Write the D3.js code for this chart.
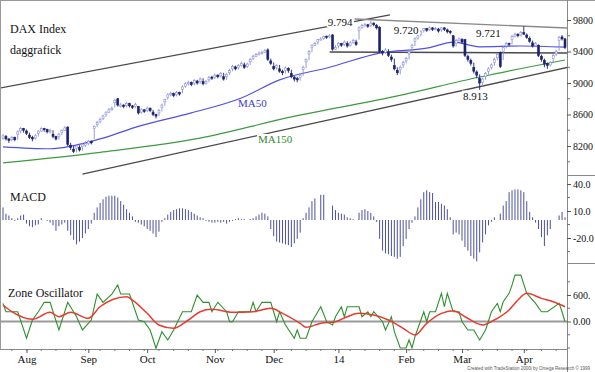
<!DOCTYPE html>
<html>
<head>
<meta charset="utf-8">
<script src="https://cdn.jsdelivr.net/npm/d3@7/dist/d3.min.js"></script>
<style>
body { margin: 0; background: #fff; }
svg { display: block; font-family: "Liberation Serif", "Times New Roman", serif; }
</style>
</head>
<body>
<svg id="chart" width="595" height="372"></svg>
<script>
// daily DAX bars, late Jul 2013 .. late Apr 2014
const opens = [8300,8320,8290,8280,8310,8350,8390,8420,8390,8340,
8310,8300,8360,8390,8420,8410,8380,8350,8320,8320,
8370,8400,8440,8210,8160,8170,8180,8190,8210,8230,
8260,8420,8470,8510,8550,8600,8630,8660,8750,8800,
8705,8720,8710,8740,8710,8700,8700,8630,8660,8650,
8680,8630,8600,8620,8690,8760,8820,8850,8865,8850,
8880,8920,8960,8990,9005,9000,9025,9020,9020,8995,
9040,9075,9075,9100,9090,9080,9080,9130,9180,9205,
9195,9225,9230,9210,9270,9310,9340,9360,9375,9390,
9420,9280,9210,9195,9180,9150,9160,9185,9120,9075,
9055,9070,9170,9270,9370,9450,9480,9520,9545,9565,
9595,9585,9610,9430,9470,9500,9490,9500,9480,9515,
9520,9670,9705,9725,9740,9730,9760,9730,9710,9400,
9390,9390,9330,9220,9160,9170,9230,9280,9370,9450,
9530,9570,9620,9665,9690,9675,9700,9675,9685,9675,
9700,9675,9655,9600,9500,9535,9550,9550,9335,9285,
9200,9140,9060,9010,9080,9150,9200,9260,9320,9390,
9400,9470,9505,9550,9595,9620,9610,9640,9610,9565,
9510,9475,9480,9340,9290,9250,9230,9310,9370,9540,
9585,9560];
const highs = [8350,8340,8300,8330,8320,8400,8440,8430,8410,8370,
8330,8350,8400,8440,8430,8420,8420,8400,8330,8370,
8410,8450,8450,8240,8200,8220,8210,8240,8260,8280,
8270,8460,8520,8560,8600,8640,8680,8700,8800,8810,
8750,8730,8760,8750,8720,8750,8710,8680,8670,8700,
8690,8660,8610,8670,8740,8800,8870,8890,8880,8900,
8890,8970,9010,9030,9020,9050,9040,9070,9060,9040,
9090,9090,9120,9110,9140,9130,9130,9180,9230,9220,
9240,9270,9260,9260,9320,9360,9380,9400,9410,9430,
9440,9310,9260,9240,9230,9170,9210,9200,9170,9090,
9080,9120,9220,9310,9420,9490,9520,9560,9580,9600,
9600,9620,9620,9480,9520,9510,9540,9530,9530,9560,
9550,9720,9750,9760,9750,9794,9770,9750,9720,9420,
9440,9430,9360,9310,9200,9220,9280,9330,9420,9500,
9580,9620,9670,9700,9700,9720,9710,9710,9700,9710,
9710,9690,9670,9610,9560,9580,9570,9560,9360,9310,
9260,9160,9110,9070,9140,9200,9250,9320,9380,9400,
9470,9520,9510,9610,9640,9630,9660,9721,9630,9590,
9540,9520,9490,9360,9310,9260,9280,9370,9420,9600,
9610,9570];
const lows = [8280,8270,8240,8260,8260,8280,8360,8370,8340,8290,
8260,8280,8320,8380,8380,8360,8360,8300,8270,8280,
8340,8390,8200,8150,8110,8120,8130,8140,8190,8210,
8220,8290,8440,8490,8530,8570,8620,8650,8690,8700,
8690,8680,8690,8690,8670,8680,8600,8610,8620,8630,
8630,8580,8550,8580,8640,8710,8790,8830,8820,8830,
8840,8870,8940,8970,8960,8970,8980,8990,8970,8980,
9010,9040,9050,9060,9070,9030,9040,9100,9150,9160,
9170,9210,9180,9190,9230,9290,9330,9350,9360,9380,
9280,9230,9160,9170,9130,9100,9120,9130,9060,9020,
9010,9030,9090,9190,9290,9390,9470,9490,9540,9550,
9560,9570,9410,9420,9440,9460,9470,9450,9460,9500,
9470,9550,9690,9720,9700,9710,9720,9680,9380,9350,
9370,9330,9270,9160,9100,9110,9190,9250,9300,9390,
9470,9550,9590,9640,9650,9660,9660,9670,9640,9650,
9660,9630,9620,9450,9460,9530,9500,9330,9270,9220,
9120,9060,8913,8960,9040,9110,9170,9220,9290,9190,
9290,9440,9470,9490,9580,9580,9590,9610,9560,9510,
9450,9460,9330,9270,9200,9180,9210,9250,9340,9410,
9540,9430];
const closes = [8330,8290,8270,8310,8280,8380,8420,8400,8360,8310,
8290,8330,8390,8420,8410,8380,8400,8320,8290,8350,
8400,8430,8220,8180,8130,8200,8150,8220,8230,8260,
8240,8450,8500,8540,8580,8630,8660,8680,8780,8720,
8720,8700,8740,8710,8690,8730,8620,8660,8640,8680,
8650,8600,8580,8650,8720,8790,8850,8870,8840,8880,
8860,8950,8990,9010,8980,9030,9000,9050,8990,9020,
9070,9060,9100,9080,9120,9050,9110,9160,9210,9180,
9220,9250,9200,9240,9300,9340,9360,9380,9390,9410,
9300,9250,9180,9220,9150,9130,9190,9160,9080,9050,
9040,9100,9200,9300,9400,9480,9500,9550,9560,9590,
9580,9600,9430,9450,9500,9480,9520,9470,9510,9540,
9490,9700,9730,9740,9720,9760,9740,9700,9400,9380,
9420,9350,9300,9180,9130,9200,9260,9310,9400,9480,
9560,9600,9650,9690,9670,9700,9680,9690,9660,9700,
9680,9650,9640,9470,9540,9560,9520,9350,9300,9250,
9150,9100,9000,9050,9120,9180,9230,9300,9360,9210,
9450,9500,9490,9590,9620,9600,9640,9620,9580,9530,
9470,9500,9350,9300,9240,9220,9260,9350,9400,9580,
9560,9450];

// moving averages (bar index, value)
const ma50Idx = [0, 16, 33, 46, 64, 81, 94, 111, 128, 145, 153, 162, 176, 191];
const ma50Val = [8190, 8165, 8290, 8450, 8620, 8810, 9040, 9200, 9380, 9450, 9520, 9460, 9470, 9455];
const ma150Idx = [0, 33, 67, 98, 132, 162, 191];
const ma150Val = [7985, 8120, 8300, 8570, 8820, 9076, 9292];

// trend lines [startIdx, startPrice, endIdx, endPrice]
const trendLines = [
  [-1, 8936, 131.5, 9864],
  [27, 7844, 192, 9200],
  [111, 9394, 192, 9381],
  [119.5, 9813, 192, 9698]
];

// MACD histogram, one value per bar
const macd = [14,7,5,2,-1,2,5,6,-4,-7,
-8,-6,-5,2,0,-1,-3,-6,-12,-7,
-5,-3,-12,-17,-22,-27,-24,-20,-15,-10,
-4,8,14,19,23,26,27,27,27,25,
21,17,12,8,4,-2,-3,-5,-7,-10,
-12,-15,-19,-13,-2,2,6,9,11,12,
13,13,12,11,9,7,5,3,2,-1,
-2,-3,-3,-2,-3,-2,-4,-2,-1,1,
2,1,1,0,1,2,4,6,8,7,
4,-10,-18,-24,-25,-26,-27,-28,-30,-26,
-21,-14,2,8,14,21,24,0,28,28,
0,0,16,11,8,7,6,3,2,1,
0,8,11,12,10,8,4,-2,-21,-34,
-37,-38,-40,-41,-43,-41,-29,-21,-10,-3,
4,14,23,31,33,31,30,20,20,18,
16,12,3,-16,-14,-16,-23,-30,-34,-40,
-43,-46,-36,-25,-16,-6,-2,3,0,7,
16,21,31,33,34,34,33,31,21,9,
3,-3,-10,-19,-29,-17,-10,0,0,5,
9,3];

// zone oscillator: green line vertices and red signal line
const zoneIdx = [0,1,5,8,10,12,14,16,19,22,25,27,30,32,34,37,39,40,43,46,48,50,52,54,56,58,61,64,66,68,70,71,73,76,77,78,80,84,85,86,88,91,93,94,96,99,100,101,
103,105,106,108,110,112,113,115,116,117,121,122,124,125,126,129,130,132,133,135,137,138,139,140,143,144,145,147,149,150,151,153,155,156,158,160,162,164,166,168,169,170,172,173,174,176,178,181,183,185,189,190,191];
const zoneVal = [411,221,221,-379,34,221,434,434,-192,434,108,-192,34,621,434,621,825,621,621,34,-5,-192,-606,-231,-418,-192,221,221,599,434,434,221,434,221,-5,-5,221,221,434,221,434,434,-5,221,-79,-379,-192,-379,
-379,-5,108,334,-5,-79,108,334,108,334,334,108,221,108,221,-5,-192,108,-231,-600,-600,-418,-600,-344,221,-5,221,221,637,334,637,221,221,-5,-192,-192,-418,-192,221,411,221,447,637,825,1051,1051,637,411,221,221,411,221,-5];
const signalIdx = [0,3,10,16,19,23,29,33,42,44,49,53,58,63,67,71,78,85,91,95,101,103,108,113,117,121,126,131,136,140,144,149,153,157,163,167,172,175,178,183,187,191];
const signalVal = [373,221,50,208,108,208,72,334,560,486,185,-79,-154,34,221,276,208,221,298,185,-41,-131,-41,-5,108,185,147,34,-154,-305,-41,185,244,108,-79,34,260,486,637,524,447,334];

// axis ticks and labels
const priceTicks = [8200, 8600, 9000, 9400, 9800];
const priceMinor = [8000, 8400, 8800, 9200, 9600];
const macdTicks = [40, 10, -20];
const macdTickLabels = ["40.0", "10.0", "-20.0"];
const zoneTicks = [600, 0];
const zoneTickLabels = ["600.", "0.00"];
const monthIdx = [8, 29, 49, 72, 92, 114, 137, 156, 177];
const monthLabels = ["Aug", "Sep", "Oct", "Nov", "Dec", "14", "Feb", "Mar", "Apr"];

// annotations [text, idx, price]
const peakLabels = [["9.794", 114.6, 9724], ["9.720", 137, 9625], ["9.721", 165, 9585], ["8.913", 160.5, 8790]];

const W = 595, H = 372, axisX = 567, bottom = 349;
const svg = d3.select("#chart");
const x = d3.scaleLinear().domain([0, closes.length - 1]).range([3, 565]);
const yP = d3.scaleLinear().domain([7832, 10054]).range([175, 0]);
const yM = d3.scaleLinear().domain([0, 40]).range([220, 184]);
const yZ = d3.scaleLinear().domain([0, 600]).range([321.5, 295]);

svg.append("defs").selectAll("clipPath")
	.data([["clipP", 1, 175], ["clipM", 175, 263], ["clipZ", 263, bottom]])
	.join("clipPath").attr("id", (d) => d[0])
	.append("rect").attr("x", 1).attr("y", (d) => d[1]).attr("width", axisX - 1).attr("height", (d) => d[2] - d[1]);

// frame
svg.append("line").attr("x1", 0).attr("x2", W).attr("y1", 0.5).attr("y2", 0.5).attr("stroke", "#999");
svg.append("line").attr("x1", 0.5).attr("x2", 0.5).attr("y1", 0).attr("y2", bottom).attr("stroke", "#999");
svg.append("line").attr("x1", axisX + 0.5).attr("x2", axisX + 0.5).attr("y1", 0).attr("y2", H).attr("stroke", "#888");
svg.append("line").attr("x1", 0).attr("x2", axisX).attr("y1", bottom + 0.5).attr("y2", bottom + 0.5).attr("stroke", "#888");
[175, 263].forEach((y) => {
	svg.append("line").attr("x1", axisX).attr("x2", W).attr("y1", y + 0.5).attr("y2", y + 0.5).attr("stroke", "#888");
});

// ---- price panel
const price = svg.append("g").attr("clip-path", "url(#clipP)");
const bars = closes.map((c, i) => ({ i, o: opens[i], h: highs[i], l: lows[i], c }));

price.selectAll("line.trend").data(trendLines).join("line")
	.attr("class", "trend")
	.attr("x1", (d) => x(d[0])).attr("y1", (d) => yP(d[1]))
	.attr("x2", (d) => x(d[2])).attr("y2", (d) => yP(d[3]))
	.attr("stroke", (d, i) => (i === 3 ? "#8a8a8a" : "#4a4a4a"))
	.attr("stroke-width", 1.3);

const maLine = d3.line().x((d) => x(d[0])).y((d) => yP(d[1])).curve(d3.curveMonotoneX);
price.append("path").datum(ma150Idx.map((d, i) => [d, ma150Val[i]]))
	.attr("d", maLine).attr("fill", "none").attr("stroke", "#3d9b3d").attr("stroke-width", 1.2);
price.append("path").datum(ma50Idx.map((d, i) => [d, ma50Val[i]]))
	.attr("d", maLine).attr("fill", "none").attr("stroke", "#5050e6").attr("stroke-width", 1.2);

const upCol = "#8a8fd6", dnCol = "#1b2270";
price.selectAll("line.wick").data(bars).join("line")
	.attr("class", "wick")
	.attr("x1", (d) => x(d.i)).attr("x2", (d) => x(d.i))
	.attr("y1", (d) => yP(d.h)).attr("y2", (d) => yP(d.l))
	.attr("stroke", (d) => (d.c >= d.o ? upCol : dnCol)).attr("stroke-width", 0.9);
price.selectAll("rect.body").data(bars).join("rect")
	.attr("class", "body")
	.attr("x", (d) => x(d.i) - 1).attr("width", 2)
	.attr("y", (d) => yP(Math.max(d.o, d.c)))
	.attr("height", (d) => Math.max(1, Math.abs(yP(d.o) - yP(d.c))))
	.attr("fill", (d) => (d.c >= d.o ? "#fff" : dnCol))
	.attr("stroke", (d) => (d.c >= d.o ? upCol : dnCol)).attr("stroke-width", 0.6);

const txt = (g, s, px, py, opts = {}) => {
	const t = g.append("text").attr("x", px).attr("y", py).text(s)
		.attr("font-size", opts.size || 11).attr("fill", opts.fill || "#111");
	if (opts.anchor) t.attr("text-anchor", opts.anchor);
	if (opts.bg) {
		const b = t.node().getBBox();
		g.insert("rect", () => t.node()).attr("x", b.x - 1).attr("y", b.y + 1)
			.attr("width", b.width + 2).attr("height", b.height - 2).attr("fill", "#fff");
	}
	return t;
};

peakLabels.forEach((d) => txt(svg, d[0], x(d[1]), yP(d[2]), { anchor: "middle", bg: true }));
txt(svg, "MA50", 238, 107, { fill: "#3a3ad0" });
txt(svg, "MA150", 258, 143, { fill: "#2f8a2f", bg: true });
txt(svg, "DAX Index", 10, 33, { size: 12 });
txt(svg, "daggrafick", 10, 54, { size: 12 });

// ---- MACD panel
const macdG = svg.append("g").attr("clip-path", "url(#clipM)");
macdG.selectAll("line").data(macd).join("line")
	.attr("x1", (d, i) => x(i)).attr("x2", (d, i) => x(i))
	.attr("y1", yM(0)).attr("y2", (d) => yM(d))
	.attr("stroke", "#4c519c").attr("stroke-width", 1);
txt(svg, "MACD", 10, 201, { size: 12 });

// ---- Zone oscillator panel
const zoneG = svg.append("g").attr("clip-path", "url(#clipZ)");
zoneG.append("line").attr("x1", 1).attr("x2", axisX).attr("y1", yZ(0)).attr("y2", yZ(0))
	.attr("stroke", "#9a9a9a").attr("stroke-width", 2);
zoneG.append("path").datum(zoneIdx.map((d, i) => [d, zoneVal[i]]))
	.attr("d", d3.line().x((d) => x(d[0])).y((d) => yZ(d[1])))
	.attr("fill", "none").attr("stroke", "#2f8f2f").attr("stroke-width", 1.1);
zoneG.append("path").datum(signalIdx.map((d, i) => [d, signalVal[i]]))
	.attr("d", d3.line().x((d) => x(d[0])).y((d) => yZ(d[1])).curve(d3.curveMonotoneX))
	.attr("fill", "none").attr("stroke", "#ea3a2f").attr("stroke-width", 1.5);
txt(svg, "Zone Oscillator", 8, 297, { size: 12 });

// ---- right axes
const rightAxis = (scale, ticks, labels, minor) => {
	const g = svg.append("g").attr("transform", `translate(${axisX},0)`);
	g.call(d3.axisRight(scale).tickValues(ticks).tickSize(4).tickPadding(2)
		.tickFormat((d, i) => (labels ? labels[i] : d)));
	g.select(".domain").remove();
	g.selectAll("text").attr("font-family", "Liberation Serif").attr("font-size", 10).attr("fill", "#111");
	g.selectAll("line").attr("stroke", "#555");
	g.selectAll("line.minor").data(minor).join("line").attr("class", "minor")
		.attr("x1", 0).attr("x2", 3).attr("y1", (d) => scale(d)).attr("y2", (d) => scale(d))
		.attr("stroke", "#777");
};
rightAxis(yP, priceTicks, null, priceMinor);
rightAxis(yM, macdTicks, macdTickLabels, [25, -5, -35]);
rightAxis(yZ, zoneTicks, zoneTickLabels, [900, 300, -300, -600]);

// ---- bottom axis
const xg = svg.append("g").attr("transform", `translate(0,${bottom})`);
xg.call(d3.axisBottom(x).tickValues(monthIdx).tickSize(4).tickPadding(2)
	.tickFormat((d, i) => monthLabels[i]));
xg.select(".domain").remove();
xg.selectAll("text").attr("font-family", "Liberation Serif").attr("font-size", 11).attr("fill", "#111");
xg.selectAll("line").attr("stroke", "#555");
xg.selectAll("line.week").data(d3.range(3, closes.length, 5)).join("line").attr("class", "week")
	.attr("x1", (d) => x(d)).attr("x2", (d) => x(d)).attr("y1", 0).attr("y2", 2).attr("stroke", "#777");

svg.append("text").attr("x", 590).attr("y", 370).attr("text-anchor", "end")
	.attr("font-family", "Liberation Sans").attr("font-size", 4.5).attr("fill", "#555")
	.text("Created with TradeStation 2000i by Omega Research \u00a9 1999");
</script>
</body>
</html>
